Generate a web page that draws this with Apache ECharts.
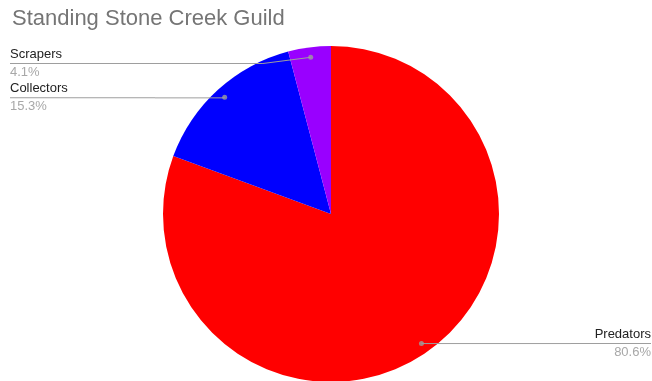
<!DOCTYPE html>
<html>
<head>
<meta charset="utf-8">
<script src="https://cdn.jsdelivr.net/npm/echarts@6/dist/echarts.min.js"></script>
<style>html,body{margin:0;padding:0;background:#fff}#c{width:652px;height:381px}</style>
</head>
<body>
<div id="c"></div>
<script>
const titleText = 'Standing Stone Creek Guild';
const categories = ['Predators', 'Collectors', 'Scrapers'];
const values = [80.6, 15.3, 4.1];
const colors = ['#ff0000', '#0000ff', '#9900ff'];

const total = values.reduce((a, b) => a + b, 0);
const mids = [];
let acc = 0;
values.forEach(v => { mids.push((acc + v / 2) / total * 100); acc += v; });

const CX = 331, CY = 214;
const LABEL_TOP = 47;
const font = 'Arial, "Liberation Sans", sans-serif';

function labelFor(i) {
  const isRight = mids[i] < 50;
  const al = isRight ? 'right' : 'left';
  return {
    edgeDistance: isRight ? 1 : 10,
    rich: {
      n: { fontSize: 13, color: '#222', lineHeight: 17, fontFamily: font, align: al },
      hr: { width: isRight ? 80 : 145, height: 1, backgroundColor: '#9e9e9e', align: al },
      p: { fontSize: 13, color: '#a8a8a8', lineHeight: 17, fontFamily: font, align: al }
    }
  };
}

const chart = echarts.init(document.getElementById('c'));
chart.setOption({
  animation: false,
  title: {
    text: titleText, left: 7, top: 3,
    textStyle: { fontSize: 22, fontWeight: 'normal', color: '#757575', fontFamily: font }
  },
  polar: { center: [CX, CY], radius: 158 },
  angleAxis: { type: 'value', min: 0, max: 100, startAngle: 90, clockwise: true, show: false },
  radiusAxis: { type: 'value', min: 0, max: 1, show: false },
  series: [
    {
      type: 'pie', center: [CX, CY], radius: 168, startAngle: 90, clockwise: true,
      label: { show: false }, labelLine: { show: false },
      itemStyle: { borderWidth: 0 },
      emphasis: { disabled: true },
      data: categories.map((c, i) => ({ name: c, value: values[i], itemStyle: { color: colors[i] } }))
    },
    {
      type: 'pie', top: LABEL_TOP, center: [CX, CY - LABEL_TOP], radius: 158, startAngle: 90, clockwise: true, z: 3,
      itemStyle: { color: 'rgba(0,0,0,0)' },
      emphasis: { disabled: true },
      label: {
        show: true, position: 'outer', alignTo: 'edge', distanceToLabelLine: 0,
        formatter: p => '{n|' + p.name + '}\n{hr|}\n{p|' + values[p.dataIndex].toFixed(1) + '%}'
      },
      labelLine: { show: true, length: 0, length2: 10, lineStyle: { color: '#9e9e9e', width: 1 } },
      data: categories.map((c, i) => ({ name: c, value: values[i], label: labelFor(i) }))
    },
    {
      type: 'scatter', coordinateSystem: 'polar', symbolSize: 5, z: 4,
      itemStyle: { color: '#9e9e9e' },
      data: mids.map(m => [1, m])
    }
  ]
});
</script>
</body>
</html>
